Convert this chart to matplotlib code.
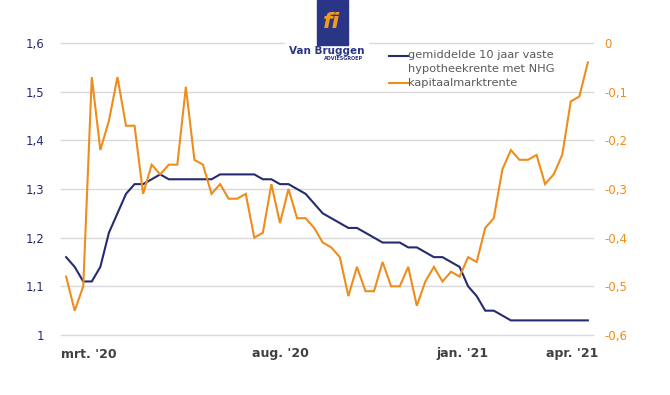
import matplotlib
matplotlib.use('Agg')

import matplotlib.pyplot as plt
from matplotlib.lines import Line2D
from matplotlib.patches import Rectangle
from matplotlib.ticker import FuncFormatter

# weekly series, March 2020 - April 2021
hypotheek = [1.16, 1.14, 1.11, 1.11, 1.14, 1.21, 1.25, 1.29, 1.31, 1.31,
             1.32, 1.33, 1.32, 1.32, 1.32, 1.32, 1.32, 1.32, 1.33, 1.33,
             1.33, 1.33, 1.33, 1.32, 1.32, 1.31, 1.31, 1.30, 1.29, 1.27,
             1.25, 1.24, 1.23, 1.22, 1.22, 1.21, 1.20, 1.19, 1.19, 1.19,
             1.18, 1.18, 1.17, 1.16, 1.16, 1.15, 1.14, 1.10, 1.08, 1.05,
             1.05, 1.04, 1.03, 1.03, 1.03, 1.03, 1.03, 1.03, 1.03, 1.03,
             1.03, 1.03]

kapitaalmarkt = [-0.48, -0.55, -0.50, -0.07, -0.22, -0.16, -0.07, -0.17, -0.17, -0.31,
                 -0.25, -0.27, -0.25, -0.25, -0.09, -0.24, -0.25, -0.31, -0.29, -0.32,
                 -0.32, -0.31, -0.40, -0.39, -0.29, -0.37, -0.30, -0.36, -0.36, -0.38,
                 -0.41, -0.42, -0.44, -0.52, -0.46, -0.51, -0.51, -0.45, -0.50, -0.50,
                 -0.46, -0.54, -0.49, -0.46, -0.49, -0.47, -0.48, -0.44, -0.45, -0.38,
                 -0.36, -0.26, -0.22, -0.24, -0.24, -0.23, -0.29, -0.27, -0.23, -0.12,
                 -0.11, -0.04]

month_labels = ["mrt. '20", "aug. '20", "jan. '21", "apr. '21"]
month_pos = [2.7, 25.0, 46.4, 59.2]

left_ticks = [1.0, 1.1, 1.2, 1.3, 1.4, 1.5, 1.6]
right_ticks = [-0.6, -0.5, -0.4, -0.3, -0.2, -0.1, 0.0]

navy = '#252b6f'
orange = '#ee8d1b'
grey = '#595959'

W, H = 670, 395


def comma(v, pos=None):
    s = '{0:.1f}'.format(v).replace('.', ',')
    if s.endswith(',0'):
        s = s[:-2]
    if s == '-0':
        s = '0'
    return s


fig = plt.figure(figsize=(W / 100, H / 100), dpi=100)
ax = fig.add_axes([61 / W, 1 - 335 / H, (593 - 61) / W, (335 - 43) / H])
ax2 = ax.twinx()

x = list(range(len(hypotheek)))
ax.plot(x, hypotheek, color=navy, lw=1.5, solid_joinstyle='miter')
ax2.plot(x, kapitaalmarkt, color=orange, lw=1.5, solid_joinstyle='miter')

ax.set_xlim(-0.6, 61.6)
ax.set_ylim(1.0, 1.6)
ax2.set_ylim(-0.6, 0.0)

ax.set_yticks(left_ticks)
ax2.set_yticks(right_ticks)
ax.yaxis.set_major_formatter(FuncFormatter(comma))
ax2.yaxis.set_major_formatter(FuncFormatter(comma))

ax.set_xticks(month_pos)
ax.set_xticklabels(month_labels, fontsize=9, fontweight='bold', color='#404040')

ax.tick_params(axis='x', length=0, pad=9)
ax.tick_params(axis='y', length=0, pad=12, labelsize=8.5, labelcolor=navy)
ax2.tick_params(axis='y', length=0, pad=8, labelsize=8.5, labelcolor=orange)

ax.grid(axis='y', color='#d9d9d9', lw=1)
for g in ax.get_ygridlines():
    g.set_clip_on(False)
ax.set_axisbelow(True)
for a in (ax, ax2):
    for s in a.spines.values():
        s.set_visible(False)

# logo
fig.patches.append(Rectangle((285 / W, 1 - 66 / H), 83 / W, 66 / H,
                             transform=fig.transFigure, color='white', zorder=5))
fig.patches.append(Rectangle((317 / W, 1 - 45 / H), 31 / W, 45 / H,
                             transform=fig.transFigure, color='#2b3586', zorder=6))
fig.text(332 / W, 1 - 22 / H, 'fi', color='#f19a1f', fontsize=16,
         fontweight='bold', style='italic', ha='center', va='center', zorder=7)
fig.text(327 / W, 1 - 51 / H, 'Van Bruggen', color='#2b3586', fontsize=7.5,
         fontweight='bold', ha='center', va='center', zorder=7)
fig.text(363 / W, 1 - 58.5 / H, 'ADVIESGROEP', color='#2b3586', fontsize=3.5,
         fontweight='bold', ha='right', va='center', zorder=7)

# legend
fig.lines.append(Line2D([389 / W, 408 / W], [1 - 56 / H, 1 - 56 / H],
                        transform=fig.transFigure, color=navy, lw=1.5))
fig.lines.append(Line2D([389 / W, 408 / W], [1 - 83 / H, 1 - 83 / H],
                        transform=fig.transFigure, color=orange, lw=1.5))
fig.text(408 / W, 1 - 55.5 / H, 'gemiddelde 10 jaar vaste', color=grey,
         fontsize=8.2, ha='left', va='center')
fig.text(408 / W, 1 - 69.5 / H, 'hypotheekrente met NHG', color=grey,
         fontsize=8.2, ha='left', va='center')
fig.text(408 / W, 1 - 83 / H, 'kapitaalmarktrente', color=grey,
         fontsize=8.2, ha='left', va='center')

fig.savefig('out.png', dpi=100, facecolor='white')
